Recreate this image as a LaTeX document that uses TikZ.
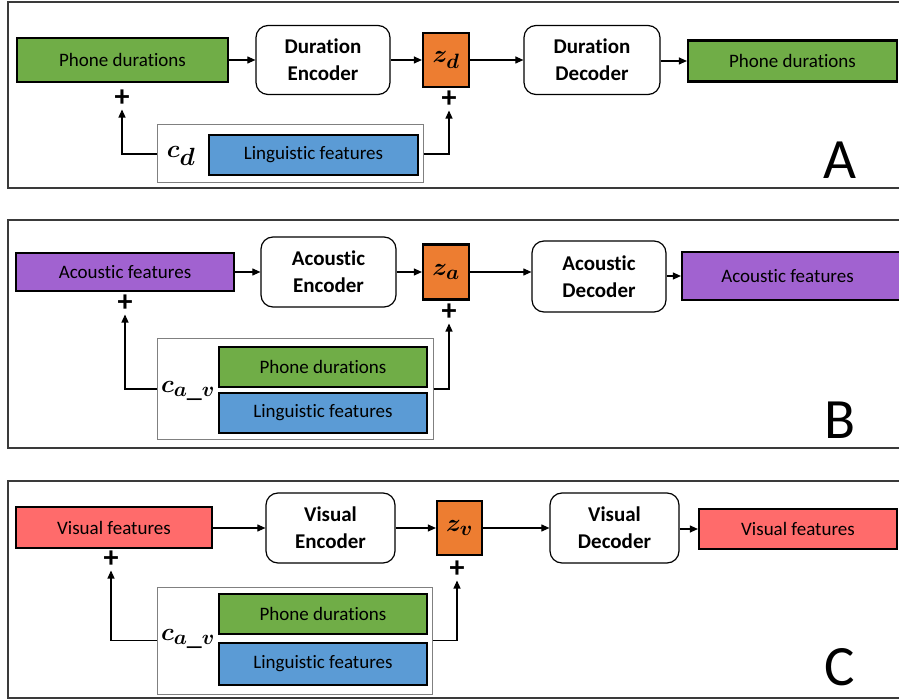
\documentclass[tikz,border=0pt]{standalone}
\usepackage{fontspec}
\setmainfont{Carlito}[Ligatures=NoCommon]
\usepackage{bm}
\usetikzlibrary{arrows.meta}
\definecolor{cgreen}{HTML}{70AD47}
\definecolor{cblue}{HTML}{5B9BD5}
\definecolor{corange}{HTML}{ED7D31}
\definecolor{cpurple}{HTML}{A162D0}
\definecolor{cred}{HTML}{FF6B6B}
\definecolor{cframe}{HTML}{3A3A3A}
\definecolor{cgray}{HTML}{808080}
\tikzset{
  feat/.style={draw=black, line width=2.2pt, inner sep=0pt, font=\fontsize{19}{22}\selectfont},
  codec/.style={draw=black, line width=1.2pt, rounded corners=12pt, fill=white, align=center, inner sep=0pt, font=\bfseries\fontsize{21}{27}\selectfont},
  zbox/.style={draw=black, line width=2.2pt, fill=corange, inner sep=0pt, font=\fontsize{32}{32}\selectfont},
  cbox/.style={draw=cgray, line width=1pt, inner sep=0pt},
  plussign/.style={inner sep=3pt, font=\bfseries\fontsize{30}{30}\selectfont},
  clabel/.style={inner sep=0pt, font=\fontsize{34}{34}\selectfont},
  cavlabel/.style={inner sep=0pt, font=\fontsize{30}{30}\selectfont},
  letter/.style={inner sep=0pt, font=\fontsize{57}{57}\selectfont},
  panel/.style={draw=cframe, line width=1.5pt},
  arr/.style={-{Triangle[length=8pt,width=7pt]}, line width=1.1pt}
}
\begin{document}
\begin{tikzpicture}[x=1pt,y=-1pt]
\useasboundingbox (0,0) rectangle (899,700);
\clip (0,0) rectangle (899,700);
% ---------------- Panel A ----------------
\draw[panel] (8,2) rectangle (910,188);
\node[feat, fill=cgreen, minimum width=211pt, minimum height=44pt] (pdA) at (122.5,60) {Phone durations};
\node[codec, minimum width=134pt, minimum height=69pt] (encA) at (323,60) {Duration\\Encoder};
\node[zbox, minimum width=46pt, minimum height=54pt] (zA) at (446,60) {$\bm{z}_{\bm{d}}$};
\node[codec, minimum width=136pt, minimum height=69pt] (decA) at (592,60) {Duration\\Decoder};
\node[feat, fill=cgreen, minimum width=209pt, minimum height=41pt] (pdA2) at (792.5,61) {Phone durations};
\node[cbox, minimum width=266pt, minimum height=58pt] (cbA) at (290,154) {};
\node[feat, fill=cblue, minimum width=209pt, minimum height=40pt] (lgA) at (313.5,155) {Linguistic features};
\node[clabel] (clA) at (181,156) {$\bm{c}_{\bm{d}}$};
\node[plussign] (plA1) at (122,98) {+};
\node[plussign] (plA2) at (449,99) {+};
\node[letter] (letA) at (840,160) {A};
\draw[arr] (pdA) -- (encA);
\draw[arr] (encA) -- (zA);
\draw[arr] (zA) -- (decA);
\draw[arr] (decA.east |- pdA2.west) -- (pdA2.west);
\draw[arr] (cbA.west) -| (plA1.south);
\draw[arr] (cbA.east) -| (plA2.south);
% ---------------- Panel B ----------------
\draw[panel] (8,220) rectangle (910,448);
\node[feat, fill=cpurple, minimum width=218pt, minimum height=38pt] (afB) at (125,272) {Acoustic features};
\node[codec, minimum width=135pt, minimum height=70pt] (encB) at (328.5,272) {Acoustic\\Encoder};
\node[zbox, minimum width=46pt, minimum height=55pt] (zB) at (446,272) {$\bm{z}_{\bm{a}}$};
\node[codec, minimum width=134pt, minimum height=71pt] (decB) at (599,276.5) {Acoustic\\Decoder};
\node[feat, fill=cpurple, minimum width=223pt, minimum height=48pt] (afB2) at (793.5,276) {\hspace*{-12pt}Acoustic features};
\node[cbox, minimum width=276pt, minimum height=100pt] (cbB) at (295,389) {};
\node[feat, fill=cgreen, minimum width=208pt, minimum height=40pt] (pdB) at (323,367) {Phone durations};
\node[feat, fill=cblue, minimum width=208pt, minimum height=40pt] (lgB) at (323,413) {Linguistic features};
\node[cavlabel] (clB) at (188,391) {$\bm{c}_{\bm{a}\_\bm{v}}$};
\node[plussign] (plB1) at (125,303) {+};
\node[plussign] (plB2) at (449,312) {+};
\node[letter] (letB) at (840,420) {B};
\draw[arr] (afB) -- (encB);
\draw[arr] (encB) -- (zB);
\draw[arr] (zB.east) -- (zB.east -| decB.west);
\draw[arr] (decB.east |- afB2.west) -- (afB2.west);
\draw[arr] (cbB.west) -| (plB1.south);
\draw[arr] (cbB.east) -| (plB2.south);
% ---------------- Panel C ----------------
\draw[panel] (8,481) rectangle (910,698);
\node[feat, fill=cred, minimum width=196pt, minimum height=41pt] (vfC) at (114,527.5) {Visual features};
\node[codec, minimum width=129pt, minimum height=70pt] (encC) at (330.5,528) {Visual\\Encoder};
\node[zbox, minimum width=45pt, minimum height=54pt] (zC) at (459.5,528) {$\bm{z}_{\bm{v}}$};
\node[codec, minimum width=129pt, minimum height=70pt] (decC) at (614.5,528) {Visual\\Decoder};
\node[feat, fill=cred, minimum width=198pt, minimum height=40pt] (vfC2) at (798,529) {Visual features};
\node[cbox, minimum width=275pt, minimum height=107pt] (cbC) at (294.5,640.5) {};
\node[feat, fill=cgreen, minimum width=208pt, minimum height=40pt] (pdC) at (323,614) {Phone durations};
\node[feat, fill=cblue, minimum width=208pt, minimum height=42pt] (lgC) at (323,664) {Linguistic features};
\node[cavlabel] (clC) at (188,639) {$\bm{c}_{\bm{a}\_\bm{v}}$};
\node[plussign] (plC1) at (111,559) {+};
\node[plussign] (plC2) at (457,569) {+};
\node[letter] (letC) at (840,667) {C};
\draw[arr] (vfC.east |- encC.west) -- (encC.west);
\draw[arr] (encC) -- (zC);
\draw[arr] (zC) -- (decC);
\draw[arr] (decC.east |- vfC2.west) -- (vfC2.west);
\draw[arr] (cbC.west) -| (plC1.south);
\draw[arr] (cbC.east) -| (plC2.south);
\end{tikzpicture}
\end{document}
